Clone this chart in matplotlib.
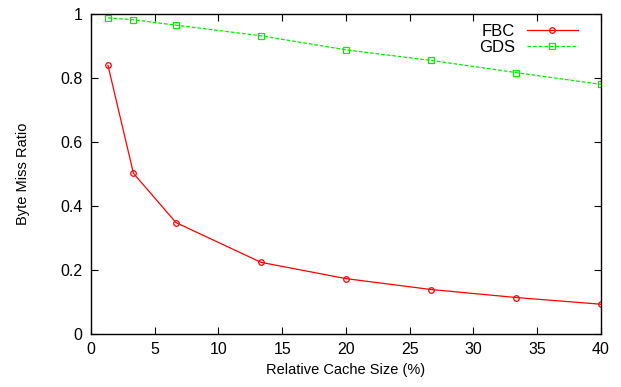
import matplotlib
matplotlib.use("Agg")
import matplotlib.pyplot as plt

# data
cache_size = [1.33, 3.33, 6.67, 13.33, 20.0, 26.67, 33.33, 40.0]
fbc = [0.84, 0.502, 0.348, 0.224, 0.173, 0.139, 0.114, 0.093]
gds = [0.988, 0.982, 0.965, 0.932, 0.888, 0.855, 0.817, 0.780]

plt.rcParams['font.family'] = ['Liberation Sans', 'DejaVu Sans']
plt.rcParams['font.size'] = 10.5

fig = plt.figure(figsize=(6.21, 3.87), dpi=100)
ax = fig.add_axes([0.1465, 0.137, 0.8213, 0.8268])

ax.plot(cache_size, fbc, color='#ff0000', lw=0.9, marker='o', ms=4,
        mfc='none', mec='#ff0000', mew=0.9, label='FBC')
ax.plot(cache_size, gds, color='#00ee00', lw=0.9, ls=(0, (3, 1.5)), marker='s', ms=4,
        mfc='none', mec='#00ee00', mew=0.9, label='GDS')

ax.set_xlim(0, 40)
ax.set_ylim(0, 1)
ax.set_xticks(range(0, 41, 5))
ax.set_yticks([0, 0.2, 0.4, 0.6, 0.8, 1])
ax.set_yticklabels(['0', '0.2', '0.4', '0.6', '0.8', '1'])
ax.tick_params(direction='in', top=True, right=True, length=5, width=0.8, pad=6,
               labelsize=11.5)
for s in ax.spines.values():
    s.set_linewidth(1.0)

ax.set_xlabel('Relative Cache Size (%)', fontsize=10.5)
ax.set_ylabel('Byte Miss Ratio', fontsize=10.5, labelpad=22)

ax.legend(loc='upper right', bbox_to_anchor=(0.975, 1.0), frameon=False,
          markerfirst=False, handlelength=3.1, borderaxespad=0.2, labelspacing=0.05,
          handletextpad=0.7, fontsize=12)

fig.savefig('out.png', dpi=100)
